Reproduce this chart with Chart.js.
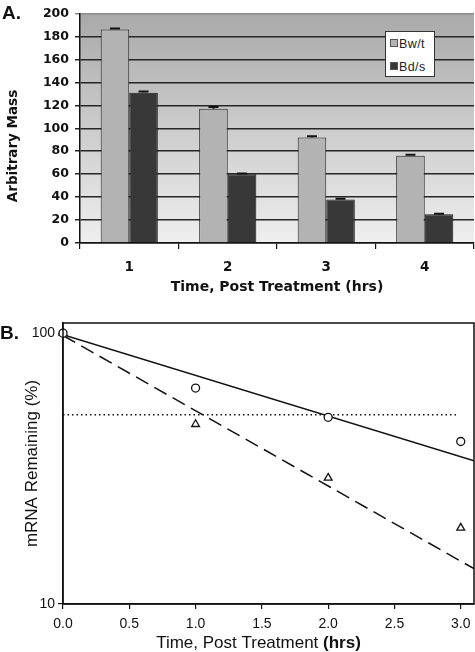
<!DOCTYPE html>
<html>
<head>
<meta charset="utf-8">
<script src="https://cdn.jsdelivr.net/npm/chart.js@4.4.1/dist/chart.umd.min.js"></script>
<style>
    html, body { margin: 0; padding: 0; background: #fff; }
    body { width: 475px; height: 652px; position: relative; overflow: hidden; }
    .panel { position: absolute; left: 0; width: 475px; }
    #panelA { top: 0; height: 300px; }
    #panelB { top: 300px; height: 352px; }
    .tag { position: absolute; font: bold 19px Arial, "Liberation Sans", sans-serif; color: #111; }
    #legendA {
        position: absolute; left: 385px; top: 31px; width: 50px; height: 46px;
        background: #fff; border: 1px solid #333; box-sizing: border-box;
        font: 12.5px Arial, "Liberation Sans", sans-serif; color: #222;
    }
    #legendA div { position: absolute; left: 4px; height: 14px; line-height: 14px; letter-spacing: 0.4px; }
    #legendA span { display: inline-block; width: 6px; height: 6px; border: 1px solid #555; margin-right: 1px; vertical-align: 1px; }
</style>
</head>
<body>
<div class="panel" id="panelA"><canvas id="chartA"></canvas></div>
<div class="panel" id="panelB"><canvas id="chartB"></canvas></div>
<div class="tag" style="left:2px; top:2px;">A.</div>
<div class="tag" style="left:0px; top:322px;">B.</div>
<div id="legendA">
    <div style="top:5px;"><span style="background:#b3b3b3;"></span>Bw/t</div>
    <div style="top:28px;"><span style="background:#383838;"></span>Bd/s</div>
</div>
<script>
// Panel A data
const hours = ['1', '2', '3', '4'];
const bwtMass = [186, 117, 92, 76];
const bdsMass = [131, 60, 38, 25];
const bwtErr = [1, 1.5, 1, 0.8];
const bdsErr = [1, 0.6, 0.5, 0.5];

// Panel B data
const timeB = [0, 1, 2, 3];
const bwtRemaining = [100, 62.7, 48.9, 39.8];
const bdsRemaining = [100, 46.1, 29.2, 19.1];
const bwtFitX = [0, 3.1];
const bwtFitY = [98.6, 33.8];
const bdsFitX = [0, 3.1];
const bdsFitY = [98, 13.5];
const halfLifeX = [0, 2.98];
const halfLifeY = [50, 50];
const yTicksB = [10, 100];

const toPoints = (xs, ys) => xs.map((x, i) => ({ x: x, y: ys[i] }));

// Gradient plot background for panel A
const plotBackground = {
    id: 'plotBackground',
    beforeDraw(chart) {
        const { ctx, chartArea: a } = chart;
        const g = ctx.createLinearGradient(0, a.top, 0, a.bottom);
        g.addColorStop(0, '#a9a9a9');
        g.addColorStop(1, '#efefef');
        ctx.save();
        ctx.fillStyle = g;
        ctx.fillRect(a.left, a.top, a.right - a.left, a.bottom - a.top);
        ctx.restore();
    }
};

// Small error bars on top of each bar
const errorBars = {
    id: 'errorBars',
    afterDatasetsDraw(chart) {
        const { ctx } = chart;
        const yScale = chart.scales.y;
        ctx.save();
        ctx.strokeStyle = '#111';
        ctx.lineWidth = 2;
        chart.data.datasets.forEach((ds, i) => {
            const meta = chart.getDatasetMeta(i);
            meta.data.forEach((bar, j) => {
                const top = yScale.getPixelForValue(ds.data[j] + ds.errors[j]);
                const base = yScale.getPixelForValue(ds.data[j]);
                ctx.beginPath();
                ctx.moveTo(bar.x, base);
                ctx.lineTo(bar.x, top);
                ctx.moveTo(bar.x - 5, top);
                ctx.lineTo(bar.x + 5, top);
                ctx.stroke();
            });
        });
        ctx.restore();
    }
};

// Y axis title for panel A (drawn by hand so it sits like the original)
const titleA = {
    id: 'titleA',
    afterDraw(chart) {
        const { ctx } = chart;
        ctx.save();
        ctx.translate(13, 146);
        ctx.rotate(-Math.PI / 2);
        ctx.font = 'bold 13.5px "DejaVu Sans", Verdana, sans-serif';
        ctx.fillStyle = '#111';
        ctx.textAlign = 'center';
        ctx.textBaseline = 'middle';
        ctx.fillText('Arbitrary Mass', 0, 0);
        ctx.restore();
    }
};

const boldTick = { family: '"DejaVu Sans", Verdana, sans-serif', size: 12.5, weight: 'bold' };

new Chart(document.getElementById('chartA'), {
    type: 'bar',
    data: {
        labels: hours,
        datasets: [
            { label: 'Bw/t', data: bwtMass, errors: bwtErr, backgroundColor: '#b3b3b3', borderColor: '#222', borderWidth: 1 },
            { label: 'Bd/s', data: bdsMass, errors: bdsErr, backgroundColor: '#383838', borderColor: '#1a1a1a', borderWidth: 1 }
        ]
    },
    options: {
        responsive: true,
        maintainAspectRatio: false,
        animation: false,
        layout: { padding: { top: 12, right: 1, left: 0, bottom: 0 } },
        datasets: { bar: { barPercentage: 1, categoryPercentage: 0.58 } },
        plugins: { legend: { display: false }, tooltip: { enabled: false } },
        scales: {
            x: {
                grid: { offset: true, drawOnChartArea: false, tickLength: 6, color: '#111', lineWidth: 1.2 },
                border: { color: '#111', width: 1.5 },
                ticks: { font: { ...boldTick, size: 13.5 }, color: '#111', padding: 10 },
                title: {
                    display: true, text: 'Time, Post Treatment (hrs)', color: '#111',
                    font: { family: '"DejaVu Sans", Verdana, sans-serif', size: 14, weight: 'bold' },
                    padding: { top: 0, bottom: 4 }
                },
                afterFit(scale) { scale.height = 57; }
            },
            y: {
                min: 0, max: 200,
                grid: {
                    color: ctx => (ctx.tick && ctx.tick.value === 200) ? '#8c8c8c' : '#262626',
                    lineWidth: 1.5, tickLength: 5
                },
                border: { color: '#111', width: 1.5 },
                ticks: { stepSize: 20, font: boldTick, color: '#111', padding: 6 },
                afterFit(scale) { scale.width = 80; }
            }
        }
    },
    plugins: [plotBackground, errorBars, titleA]
});

// Frame round the plot and the mixed-weight x title for panel B
const frameB = {
    id: 'frameB',
    afterDraw(chart) {
        const { ctx, chartArea: a } = chart;
        ctx.save();
        ctx.strokeStyle = '#111';
        ctx.lineWidth = 1.5;
        ctx.strokeRect(a.left, a.top, a.right - a.left, a.bottom - a.top);
        const regular = 'Time, Post Treatment ';
        const bold = '(hrs)';
        const fReg = '17px Arial, "Liberation Sans", sans-serif';
        const fBold = 'bold 17px Arial, "Liberation Sans", sans-serif';
        ctx.font = fReg;
        const w1 = ctx.measureText(regular).width;
        ctx.font = fBold;
        const w2 = ctx.measureText(bold).width;
        const x0 = (a.left + a.right) / 2 - 10 - (w1 + w2) / 2;
        const y = 343;
        ctx.fillStyle = '#111';
        ctx.textBaseline = 'middle';
        ctx.textAlign = 'left';
        ctx.font = fReg;
        ctx.fillText(regular, x0, y);
        ctx.font = fBold;
        ctx.fillText(bold, x0 + w1, y);
        ctx.restore();
    }
};

const tickFontB = { family: 'Arial, "Liberation Sans", sans-serif', size: 14 };

new Chart(document.getElementById('chartB'), {
    type: 'scatter',
    data: {
        datasets: [
            {
                label: 'Bw/t', data: toPoints(timeB, bwtRemaining), pointStyle: 'circle', clip: false,
                pointRadius: 4, pointBackgroundColor: '#fff', pointBorderColor: '#111', pointBorderWidth: 1.3
            },
            {
                label: 'Bd/s', data: toPoints(timeB, bdsRemaining), pointStyle: 'triangle', clip: false,
                pointRadius: 4.5, pointBackgroundColor: '#fff', pointBorderColor: '#111', pointBorderWidth: 1.3
            },
            {
                label: 'Bw/t fit', data: toPoints(bwtFitX, bwtFitY), showLine: true, pointRadius: 0,
                borderColor: '#111', borderWidth: 1.5
            },
            {
                label: 'Bd/s fit', data: toPoints(bdsFitX, bdsFitY), showLine: true, pointRadius: 0,
                borderColor: '#111', borderWidth: 1.5, borderDash: [14, 7]
            },
            {
                label: '50%', data: toPoints(halfLifeX, halfLifeY), showLine: true, pointRadius: 0,
                borderColor: '#111', borderWidth: 1.5, borderDash: [1.5, 3]
            }
        ]
    },
    options: {
        responsive: true,
        maintainAspectRatio: false,
        animation: false,
        layout: { autoPadding: false, padding: { top: 23, right: 1, left: 0, bottom: 0 } },
        plugins: { legend: { display: false }, tooltip: { enabled: false } },
        scales: {
            x: {
                type: 'linear', min: 0, max: 3.1,
                grid: { drawOnChartArea: false, tickLength: 5, color: '#111', lineWidth: 1.2 },
                border: { color: '#111', width: 1.5 },
                ticks: { stepSize: 0.5, includeBounds: false, font: tickFontB, color: '#111', padding: 7,
                         callback: v => Number(v).toFixed(1) },
                afterFit(scale) {
                    scale.height = 48;
                    scale.paddingLeft = 0;
                    scale.paddingRight = 0;
                }
            },
            y: {
                type: 'logarithmic', min: 10, max: 109,
                grid: { drawOnChartArea: false, tickLength: 5, color: '#111', lineWidth: 1.2 },
                border: { color: '#111', width: 1.5 },
                ticks: { font: tickFontB, color: '#111', padding: 3, callback: v => String(v) },
                afterBuildTicks(scale) { scale.ticks = yTicksB.map(v => ({ value: v })); },
                title: {
                    display: true, text: 'mRNA Remaining (%)', color: '#111',
                    font: { family: 'Arial, "Liberation Sans", sans-serif', size: 17 },
                    padding: { top: 22, bottom: 0 }
                },
                afterFit(scale) {
                    scale.width = 63;
                    scale.paddingTop = 0;
                    scale.paddingBottom = 0;
                }
            }
        }
    },
    plugins: [frameB]
});
</script>
</body>
</html>
